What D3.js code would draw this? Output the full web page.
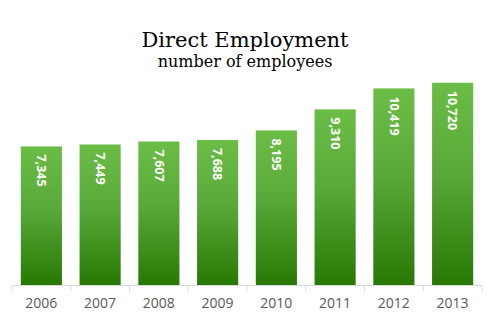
<!DOCTYPE html>
<html>
<head>
<meta charset="utf-8">
<script src="https://cdn.jsdelivr.net/npm/d3@7"></script>
<style>
  body { margin: 0; background: #fff; }
</style>
</head>
<body>
<script>
var w = 487;
var h = 329;

var years = ['2006', '2007', '2008', '2009', '2010', '2011', '2012', '2013'];
var employees = [7345, 7449, 7607, 7688, 8195, 9310, 10419, 10720];

var svg = d3.select('body').append('svg') // chart canvas
    .attr('width', w)
    .attr('height', h);

var grad = svg.append('defs').append('linearGradient')
    .attr('id', 'barGrad')
    .attr('x1', 0).attr('y1', 0)
    .attr('x2', 0).attr('y2', 1);
grad.append('stop').attr('offset', '0%').attr('stop-color', '#6cbd46');
grad.append('stop').attr('offset', '45%').attr('stop-color', '#59a93a');
grad.append('stop').attr('offset', '100%').attr('stop-color', '#287804');

var x = d3.scaleBand()
    .domain(years)
    .range([12, 482])
    .paddingInner(0.3)
    .paddingOuter(0.15);

var y = d3.scaleLinear()
    .domain([0, 12000])
    .range([285, 58.6]);

// title
svg.append('text')
    .attr('x', 245).attr('y', 47)
    .attr('text-anchor', 'middle')
    .style('font-family', 'DejaVu Serif, serif')
    .style('font-size', '21px')
    .attr('fill', '#000')
    .text('Direct Employment');
svg.append('text')
    .attr('x', 245).attr('y', 67)
    .attr('text-anchor', 'middle')
    .style('font-family', 'DejaVu Serif, serif')
    .style('font-size', '16px')
    .attr('fill', '#000')
    .text('number of employees');

// bars
svg.selectAll('rect.bar')
    .data(employees)
    .enter().append('rect')
    .attr('class', 'bar')
    .attr('x', function(d, i) { return x(years[i]); })
    .attr('y', function(d) { return y(d); })
    .attr('width', x.bandwidth())
    .attr('height', function(d) { return y(0) - y(d); })
    .attr('fill', 'url(#barGrad)');

// value labels, rotated
svg.selectAll('text.val')
    .data(employees)
    .enter().append('text')
    .attr('class', 'val')
    .attr('transform', function(d, i) {
        return 'translate(' + (x(years[i]) + x.bandwidth() / 2) + ',' + (y(d) + 8) + ') rotate(90)';
    })
    .attr('dy', '0.35em')
    .style('font-family', 'Open Sans, sans-serif')
    .style('font-size', '12.5px')
    .style('font-weight', 'bold')
    .attr('fill', '#fff')
    .text(function(d) { return d3.format(',')(d); });

// x axis
var xAxis = d3.axisBottom(x).tickSize(0).tickPadding(13);
var gx = svg.append('g')
    .attr('transform', 'translate(0,285.5)')
    .call(xAxis);
gx.select('.domain').attr('stroke', '#d9d9d9').attr('d', 'M12,0H482');
gx.selectAll('text')
    .style('font-family', 'Open Sans, sans-serif')
    .style('font-size', '14px')
    .attr('fill', '#595959');

// tick marks between categories
var edges = d3.range(years.length + 1).map(function(i) { return 12 + i * x.step(); });
svg.selectAll('line.sep')
    .data(edges)
    .enter().append('line')
    .attr('class', 'sep')
    .attr('x1', function(d) { return d; })
    .attr('x2', function(d) { return d; })
    .attr('y1', 285.5).attr('y2', 291)
    .attr('stroke', '#d9d9d9');
</script>
</body>
</html>
